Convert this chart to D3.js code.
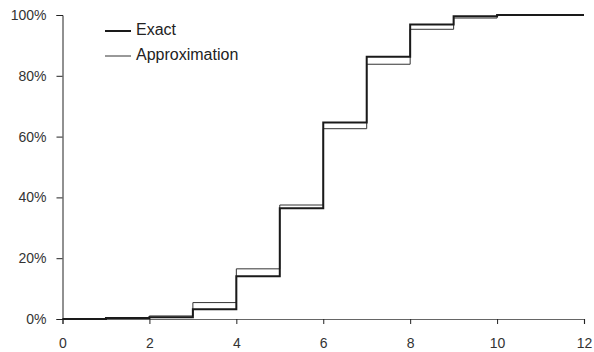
<!DOCTYPE html>
<html>
<head>
<meta charset="utf-8">
<script src="https://cdn.jsdelivr.net/npm/d3@7"></script>
<style>
  body { margin: 0; background: #fff; }
  svg { display: block; font-family: "Liberation Sans", Arial, sans-serif; }
</style>
</head>
<body>
<svg id="chart" width="594" height="352"></svg>
<script>
// Cumulative probability (%) reached at each integer step k, held on [k, k+1)
const steps = [0, 1, 2, 3, 4, 5, 6, 7, 8, 9, 10, 11, 12];
const exactValues = [0, 0.3, 0.6, 3.2, 14.1, 36.4, 64.6, 86.3, 96.9, 99.6, 100, 100, 100];
const approxValues = [0, 0.4, 1.0, 5.4, 16.5, 37.5, 62.6, 83.8, 95.3, 99.0, 100, 100, 100];
const seriesNames = ["Exact", "Approximation"];
const xTicks = [0, 2, 4, 6, 8, 10, 12];
const yTicks = [0, 20, 40, 60, 80, 100];

const svg = d3.select("#chart");
const x = d3.scaleLinear().domain([0, 12]).range([62.5, 584]);
const y = d3.scaleLinear().domain([0, 100]).range([319, 15]);

// Axes
const xAxis = svg.append("g")
  .attr("transform", `translate(0,${y(0)})`)
  .call(d3.axisBottom(x).tickValues(xTicks).tickSizeOuter(0).tickSize(5).tickPadding(14));
xAxis.select(".domain").attr("stroke", "#666").attr("stroke-width", 1.2);

const yAxis = svg.append("g")
  .attr("transform", `translate(${x(0)},0)`)
  .call(d3.axisLeft(y).tickValues(yTicks).tickFormat(d => d + "%").tickSizeOuter(0).tickSize(6).tickPadding(10));
yAxis.select(".domain").attr("stroke", "#222");

svg.selectAll(".tick line").attr("stroke", "#222");
svg.selectAll(".tick text")
  .attr("fill", "#333")
  .style("font-size", "14px")
  .style("font-family", "'Liberation Sans', Arial, sans-serif");

// Step lines
const line = d3.line()
  .x((d, i) => x(steps[i]))
  .y(d => y(d))
  .curve(d3.curveStepAfter);

svg.append("path")
  .datum(approxValues)
  .attr("fill", "none")
  .attr("stroke", "#333")
  .attr("stroke-width", 1)
  .attr("d", line);

svg.append("path")
  .datum(exactValues)
  .attr("fill", "none")
  .attr("stroke", "#1a1a1a")
  .attr("stroke-width", 2)
  .attr("d", line);

// Legend
const legend = svg.append("g").attr("transform", "translate(105,31)");
seriesNames.forEach((name, i) => {
  const g = legend.append("g").attr("transform", `translate(0,${i * 25})`);
  g.append("line")
    .attr("x1", 0).attr("x2", 26).attr("y1", 0).attr("y2", 0)
    .attr("stroke", i === 0 ? "#1a1a1a" : "#333")
    .attr("stroke-width", i === 0 ? 2 : 1);
  g.append("text")
    .attr("x", 31).attr("y", 3.5)
    .attr("fill", "#222")
    .style("font-size", "16px")
    .text(name);
});
</script>
</body>
</html>
